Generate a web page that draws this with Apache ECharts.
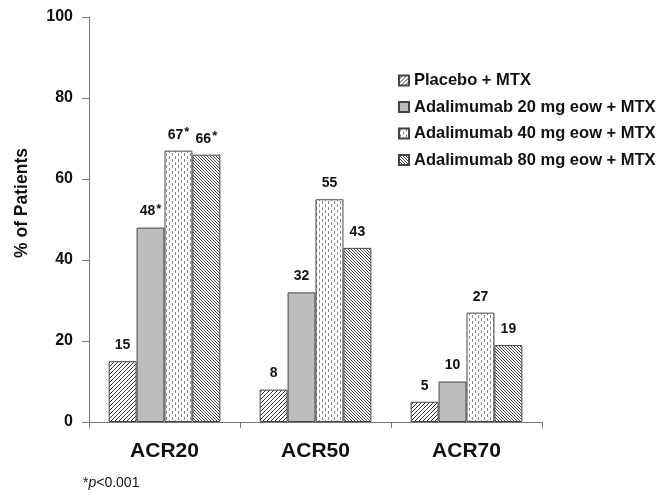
<!DOCTYPE html>
<html>
<head>
<meta charset="utf-8">
<script src="https://cdn.jsdelivr.net/npm/echarts@6/dist/echarts.min.js"></script>
<style>
  html, body { margin: 0; padding: 0; background: #fff; }
  #chart { width: 664px; height: 504px; }
</style>
</head>
<body>
<div id="chart"></div>
<script>
// data
var categories = ["ACR20", "ACR50", "ACR70"];
var seriesNames = [
  "Placebo + MTX",
  "Adalimumab 20 mg eow + MTX",
  "Adalimumab 40 mg eow + MTX",
  "Adalimumab 80 mg eow + MTX"
];
var placebo = [15, 8, 5];
var ada20 = [48, 32, 10];
var ada40 = [67, 55, 27];
var ada80 = [66, 43, 19];
// which values carry the significance asterisk
var stars20 = [true, false, false];
var stars40 = [true, false, false];
var stars80 = [true, false, false];
var yTicks = [0, 20, 40, 60, 80, 100];

var FONT = "Liberation Sans, Arial, Helvetica, sans-serif";
var INK = "#111";

// hatch / dot patterns drawn on small canvases
function makeHatch(size, dir, color, width) {
  var c = document.createElement("canvas");
  c.width = size; c.height = size;
  var ctx = c.getContext("2d");
  ctx.fillStyle = "#fff";
  ctx.fillRect(0, 0, size, size);
  ctx.strokeStyle = color;
  ctx.lineWidth = width;
  ctx.beginPath();
  if (dir === "/") {
    ctx.moveTo(0, size); ctx.lineTo(size, 0);
    ctx.moveTo(-size, size); ctx.lineTo(size, -size);
    ctx.moveTo(0, 2 * size); ctx.lineTo(2 * size, 0);
  } else {
    ctx.moveTo(0, 0); ctx.lineTo(size, size);
    ctx.moveTo(-size, 0); ctx.lineTo(size, 2 * size);
    ctx.moveTo(0, -size); ctx.lineTo(2 * size, size);
  }
  ctx.stroke();
  return { image: c, repeat: "repeat" };
}
function makeDots() {
  var c = document.createElement("canvas");
  c.width = 6; c.height = 6;
  var ctx = c.getContext("2d");
  ctx.fillStyle = "#fff";
  ctx.fillRect(0, 0, 6, 6);
  ctx.fillStyle = "#8a8a8a";
  ctx.fillRect(1, 0, 1, 3);
  ctx.fillRect(4, 3, 1, 3);
  return { image: c, repeat: "repeat" };
}

var fills = [
  makeHatch(4, "/", "#333", 1),
  "#bdbdbd",
  makeDots(),
  makeHatch(3, "\\", "#333", 0.9)
];

function labelOf(stars) {
  return {
    show: true,
    position: "top",
    distance: 9,
    formatter: function (p) {
      return stars && stars[p.dataIndex] ? "{v|" + p.value + "}{s|*}" : "{v|" + p.value + "}";
    },
    rich: {
      v: { fontFamily: FONT, fontWeight: "bold", fontSize: 14, lineHeight: 16, verticalAlign: "bottom", color: INK },
      s: { fontFamily: FONT, fontWeight: "bold", fontSize: 13, lineHeight: 15, verticalAlign: "top", color: INK, padding: [0, 0, 8, 1] }
    }
  };
}

var allData = [placebo, ada20, ada40, ada80];
var allStars = [null, stars20, stars40, stars80];

var series = allData.map(function (d, i) {
  return {
    name: seriesNames[i],
    type: "bar",
    data: d,
    barGap: "0%",
    barCategoryGap: "26%",
    itemStyle: { color: fills[i], borderColor: "#444", borderWidth: 1 },
    label: labelOf(allStars[i])
  };
});

var chart = echarts.init(document.getElementById("chart"));
chart.setOption({
  animation: false,
  backgroundColor: "#fff",
  grid: { left: 89, right: 122, top: 17, bottom: 82 },
  legend: {
    orient: "vertical",
    left: 398,
    top: 72,
    padding: 0,
    itemWidth: 10,
    itemHeight: 10,
    itemGap: 9.5,
    icon: "rect",
    data: seriesNames,
    textStyle: { fontFamily: FONT, fontWeight: "bold", fontSize: 16.5, color: INK }
  },
  xAxis: {
    type: "category",
    data: categories,
    axisLine: { lineStyle: { color: "#777", width: 1 } },
    axisTick: { show: true, length: 6, lineStyle: { color: "#777" } },
    axisLabel: { fontFamily: FONT, fontWeight: "bold", fontSize: 21, color: INK, margin: 19 }
  },
  yAxis: {
    type: "value",
    min: 0,
    max: 100,
    interval: 20,
    splitLine: { show: false },
    axisLine: { show: true, lineStyle: { color: "#777", width: 1 } },
    axisTick: { show: true, length: 7, lineStyle: { color: "#777" } },
    axisLabel: {
      fontFamily: FONT, fontWeight: "bold", fontSize: 16, color: INK, margin: 16,
      formatter: function (v) { return yTicks.indexOf(v) >= 0 ? String(v) : ""; }
    }
  },
  graphic: [{
    type: "text",
    x: 22,
    y: 203,
    rotation: Math.PI / 2,
    style: {
      text: "% of Patients",
      fontFamily: FONT, fontWeight: "bold", fontSize: 17.5, fill: INK,
      align: "center", verticalAlign: "middle"
    }
  }, {
    type: "text",
    left: 83,
    top: 476,
    style: {
      text: "{a|*}{i|p}{a|<0.001}",
      rich: {
        a: { fontFamily: FONT, fontSize: 14, fill: INK },
        i: { fontFamily: FONT, fontSize: 14, fontStyle: "italic", fill: INK }
      }
    }
  }],
  series: series
});
</script>
</body>
</html>
